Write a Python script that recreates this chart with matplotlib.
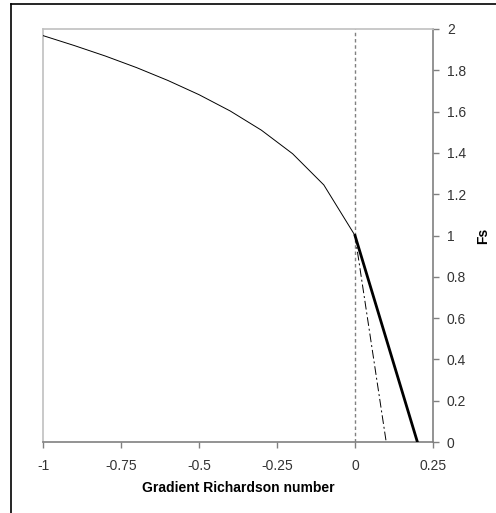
import matplotlib
matplotlib.use("Agg")
import matplotlib.pyplot as plt
from matplotlib.lines import Line2D

plt.rcParams['font.family'] = ['Liberation Sans', 'DejaVu Sans']

# Unstable branch: stability function vs gradient Richardson number
ri_unstable = [-1.0, -0.9, -0.8, -0.7, -0.6, -0.5, -0.4, -0.3, -0.2, -0.1, 0.0]
fs_unstable = [1.968, 1.920, 1.869, 1.813, 1.751, 1.682, 1.603, 1.510, 1.396, 1.245, 1.0]

# Stable branches
ri_stable_a = [0.0, 0.2]
fs_stable_a = [1.0, 0.0]
ri_stable_b = [0.0, 0.1]
fs_stable_b = [1.0, 0.0]

x_ticks = [-1, -0.75, -0.5, -0.25, 0, 0.25]
x_ticklabels = ["-1", "-0.75", "-0.5", "-0.25", "0", "0.25"]
y_ticks = [0, 0.2, 0.4, 0.6, 0.8, 1, 1.2, 1.4, 1.6, 1.8, 2]
y_ticklabels = ["0", "0.2", "0.4", "0.6", "0.8", "1", "1.2", "1.4", "1.6", "1.8", "2"]

fig = plt.figure(figsize=(4.96, 5.13), dpi=100)
fig.patch.set_facecolor("white")

# outer frame lines (top and left)
fig.add_artist(Line2D([11 / 496, 1.0], [1 - 4 / 513, 1 - 4 / 513], color="black", lw=1.2,
                      transform=fig.transFigure))
fig.add_artist(Line2D([11 / 496, 11 / 496], [0.0, 1 - 4 / 513], color="black", lw=1.2,
                      transform=fig.transFigure))

ax = fig.add_axes([43 / 496, 71 / 513, 390 / 496, 413 / 513])

ax.axvline(0, color="#808080", lw=1.0, ls=(0, (2.5, 2)), zorder=1)
ax.plot(ri_unstable, fs_unstable, color="black", lw=0.7, zorder=3)
ax.plot(ri_stable_a, fs_stable_a, color="black", lw=2.0, zorder=3)
ax.plot(ri_stable_b, fs_stable_b, color="black", lw=0.7, dashes=(9, 3, 2, 3), zorder=3)

ax.set_xlim(-1, 0.25)
ax.set_ylim(0, 2)

ax.set_xticks(x_ticks)
ax.set_xticklabels(x_ticklabels)
ax.set_yticks(y_ticks)
ax.set_yticklabels(y_ticklabels)

ax.yaxis.tick_right()
ax.yaxis.set_label_position("right")
ax.tick_params(axis="both", direction="out", length=4, width=1, color="#808080",
               labelsize=10, labelcolor="#333333")
ax.tick_params(axis="x", pad=8)
ax.tick_params(axis="y", pad=6)

for side in ["top", "left"]:
    ax.spines[side].set_color("#c0c0c0")
    ax.spines[side].set_linewidth(1.2)
for side in ["bottom", "right"]:
    ax.spines[side].set_color("#808080")
    ax.spines[side].set_linewidth(1.2)

ax.set_xlabel("Gradient Richardson number", fontsize=10, fontweight="bold", labelpad=6)
ax.set_ylabel("Fs", fontsize=10, fontweight="bold", labelpad=7, rotation=90)

fig.savefig("out.png", dpi=100, facecolor="white")
